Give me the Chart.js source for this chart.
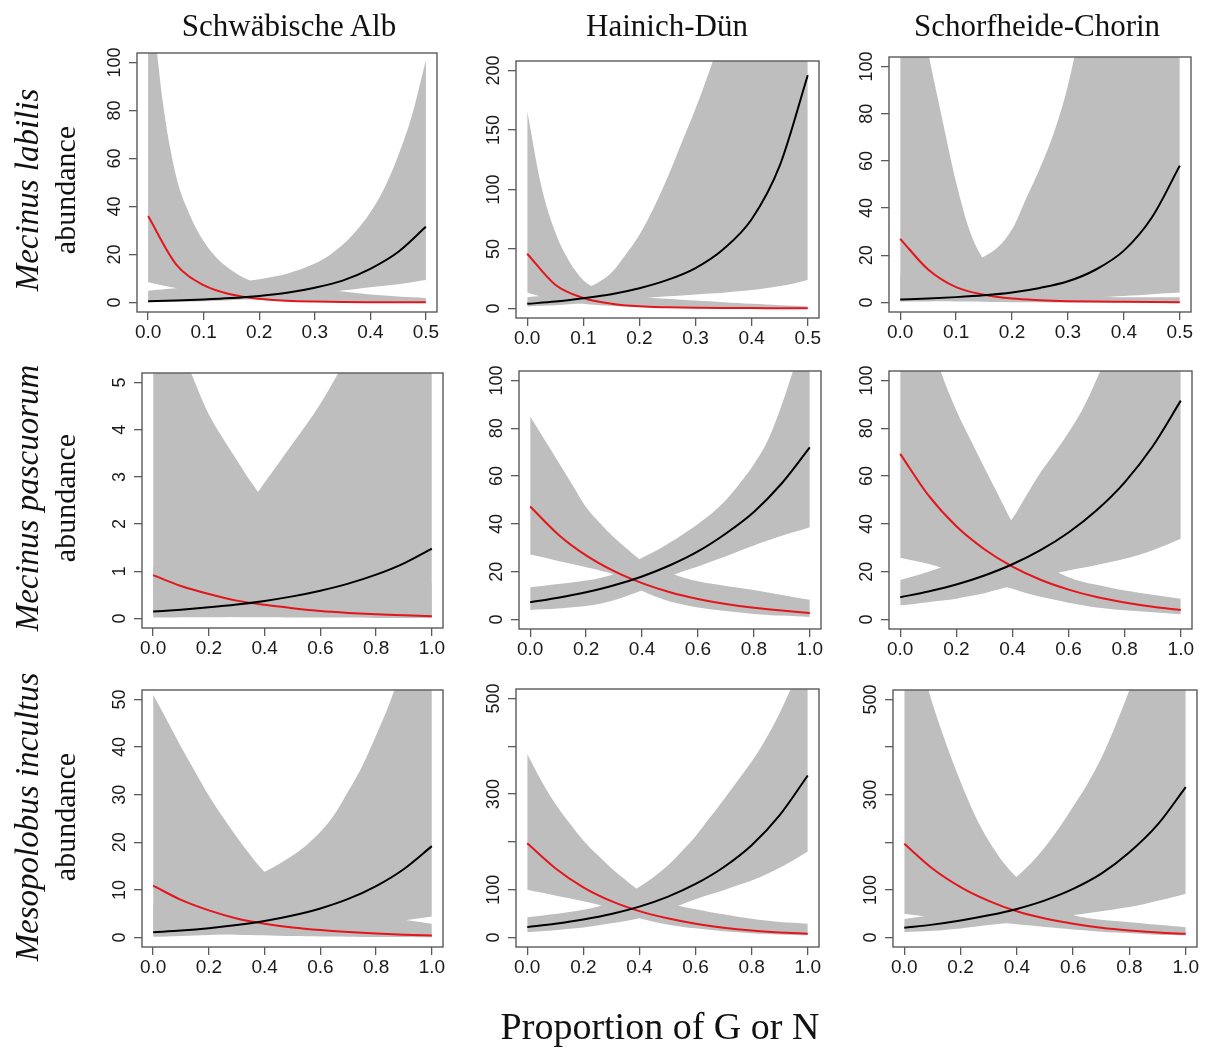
<!DOCTYPE html>
<html>
<head>
<meta charset="utf-8">
<script src="https://cdn.jsdelivr.net/npm/chart.js@4.4.1/dist/chart.umd.min.js"></script>
<style>
  body { margin: 0; background: #fff; width: 1206px; height: 1055px; position: relative; overflow: hidden; }
  canvas { position: absolute; }
  .serif { position: absolute; font-family: "Liberation Serif", "Times New Roman", serif; color: #111; white-space: nowrap; }
  .title { font-size: 31px; line-height: 32px; transform: translateX(-50%); }
  .rowlab { text-align: center; line-height: 32px; transform: translate(-50%, -50%) rotate(-90deg); }
  .rowlab i { font-size: 33px; }
  .rowlab span { font-size: 30px; }
  .xtitle { font-size: 38px; line-height: 38px; transform: translateX(-50%); }
</style>
</head>
<body>
<script>
// Abundance vs proportion of G or N, 3 sites x 3 species (R-style panels)

const SITES = ["Schwäbische Alb", "Hainich-Dün", "Schorfheide-Chorin"];
const SPECIES = ["Mecinus labilis", "Mecinus pascuorum", "Mesopolobus incultus"];
const Y_TITLE = "abundance";
const X_TITLE = "Proportion of G or N";

// x grids: fitted lines (11 pts) and confidence bands (21 pts)
const X_HALF = [0, 0.05, 0.1, 0.15, 0.2, 0.25, 0.3, 0.35, 0.4, 0.45, 0.5];
const X_FULL = [0, 0.1, 0.2, 0.3, 0.4, 0.5, 0.6, 0.7, 0.8, 0.9, 1.0];
const XB_HALF = [0, 0.025, 0.05, 0.075, 0.1, 0.125, 0.15, 0.175, 0.2, 0.225, 0.25,
                 0.275, 0.3, 0.325, 0.35, 0.375, 0.4, 0.425, 0.45, 0.475, 0.5];
const XB_FULL = [0, 0.05, 0.1, 0.15, 0.2, 0.25, 0.3, 0.35, 0.4, 0.45, 0.5,
                 0.55, 0.6, 0.65, 0.7, 0.75, 0.8, 0.85, 0.9, 0.95, 1.0];
const X_TICKS_HALF = [0, 0.1, 0.2, 0.3, 0.4, 0.5];
const X_TICKS_FULL = [0, 0.2, 0.4, 0.6, 0.8, 1.0];

const Y_TICKS_100 = [0, 20, 40, 60, 80, 100];
const Y_TICKS_200 = [0, 50, 100, 150, 200];
const Y_TICKS_5 = [0, 1, 2, 3, 4, 5];
const Y_TICKS_50 = [0, 10, 20, 30, 40, 50];
const Y_TICKS_500 = [0, 100, 200, 300, 400, 500];
const Y_LABELS_500 = [0, 100, 300, 500];

// ---- Mecinus labilis ----
const albLabBlack   = [0.52, 0.78, 1.2, 1.8, 2.7, 4.0, 6.1, 9.1, 14, 21, 31.5];
const albLabRed     = [36, 16, 7.2, 3.3, 1.5, 0.7, 0.35, 0.18, 0.1, 0.06, 0.03];
const albLabBlackHi = [4.9, 5.4, 5.9, 6.4, 6.9, 7.5, 8.1, 8.8, 9.7, 10.7, 12, 13.8, 16.2, 19.5, 24, 30, 37.5, 47.5, 61, 78, 101];
const albLabBlackLo = [0.1, 0.17, 0.25, 0.36, 0.5, 0.7, 0.9, 1.2, 1.5, 1.9, 2.4, 3.0, 3.7, 4.4, 5.0, 5.6, 6.3, 6.9, 7.6, 8.4, 9.3];
const albLabRedHi   = [142, 86, 53, 36.5, 25.5, 18.2, 13.4, 10, 7.9, 7.0, 6.3, 5.8, 5.4, 5.05, 4.5, 3.9, 3.3, 2.9, 2.5, 2.1, 1.8];
const albLabRedLo   = [8.4, 7.2, 6, 4.6, 3.5, 2.6, 2, 1.5, 1.1, 0.8, 0.6, 0.45, 0.35, 0.27, 0.2, 0.15, 0.1, 0.07, 0.05, 0.03, 0.02];

const haiLabBlack   = [3.9, 5.8, 8.6, 12, 17, 24, 34, 50, 75, 120, 196];
const haiLabRed     = [46, 20, 8.8, 4, 1.8, 1, 0.6, 0.4, 0.3, 0.2, 0.1];
const haiLabBlackHi = [9.5, 10.5, 11.8, 13.5, 16.5, 21.5, 30, 45, 62, 84, 110, 139, 168, 200, 235, 270, 310, 350, 400, 450, 500];
const haiLabBlackLo = [1.7, 2.2, 2.8, 3.5, 4.3, 5.2, 6.2, 7.3, 8.4, 9.4, 10.2, 11, 11.7, 12.5, 13.3, 14.4, 15.6, 17, 18.8, 21, 24];
const haiLabRedHi   = [166, 103, 64, 39.5, 23.8, 16.5, 14, 12, 10, 8.8, 8.1, 7.4, 6.7, 6.0, 5.3, 4.6, 3.9, 3.3, 2.7, 2.2, 1.7];
const haiLabRedLo   = [13.5, 10, 7.5, 5.5, 4, 3, 2.2, 1.6, 1.2, 0.9, 0.7, 0.5, 0.4, 0.3, 0.25, 0.2, 0.15, 0.1, 0.08, 0.05, 0.03];

const schLabBlack   = [1.3, 1.7, 2.3, 3.1, 4.3, 6.2, 9, 14, 22, 36, 58];
const schLabRed     = [27, 14, 6.5, 3.3, 1.7, 1, 0.6, 0.4, 0.3, 0.2, 0.1];
const schLabBlackHi = [12, 12.5, 13, 14, 15, 16.5, 19.5, 23.5, 31, 44, 57, 72, 92, 120, 150, 190, 240, 300, 380, 470, 580];
const schLabBlackLo = [0.3, 0.4, 0.5, 0.6, 0.7, 0.8, 0.9, 1.05, 1.2, 1.35, 1.5, 1.65, 1.8, 2.0, 2.2, 2.5, 2.8, 3.1, 3.5, 3.9, 4.3];
const schLabRedHi   = [175, 138, 106, 78, 51, 30, 18, 12.5, 9, 7, 5.5, 4.4, 3.6, 3.0, 2.6, 2.4, 2.3, 2.25, 2.2, 2.2, 2.2];
const schLabRedLo   = [2, 1.5, 1, 0.7, 0.5, 0.4, 0.3, 0.2, 0.15, 0.12, 0.1, 0.07, 0.05, 0.04, 0.03, 0.03, 0.02, 0.02, 0.01, 0.01, 0.01];

// ---- Mecinus pascuorum ----
const albPasBlack   = [0.15, 0.188, 0.237, 0.297, 0.374, 0.47, 0.59, 0.74, 0.93, 1.17, 1.48];
const albPasRed     = [0.92, 0.69, 0.52, 0.38, 0.29, 0.22, 0.16, 0.12, 0.09, 0.07, 0.05];
const albPasBlackHi = [1.1, 1.2, 1.3, 1.45, 1.6, 1.8, 2.1, 2.46, 2.88, 3.29, 3.7, 4.11, 4.55, 5.05, 5.6, 6.2, 6.8, 7.5, 8.2, 9, 9.8];
const albPasBlackLo = [0.02, 0.02, 0.03, 0.03, 0.03, 0.03, 0.04, 0.04, 0.04, 0.04, 0.05, 0.05, 0.05, 0.05, 0.05, 0.05, 0.06, 0.06, 0.06, 0.06, 0.06];
const albPasRedHi   = [7.3, 6.5, 5.75, 5.0, 4.32, 3.82, 3.36, 2.9, 2.5, 2.2, 1.95, 1.75, 1.6, 1.45, 1.3, 1.2, 1.1, 1.0, 0.9, 0.8, 0.75];
const albPasRedLo   = [0.05, 0.05, 0.04, 0.04, 0.04, 0.04, 0.03, 0.03, 0.03, 0.03, 0.02, 0.02, 0.02, 0.02, 0.02, 0.02, 0.01, 0.01, 0.01, 0.01, 0.01];

const haiPasBlack   = [7.2, 9.1, 11.4, 14.3, 18, 22.7, 28.5, 36, 45, 57, 72];
const haiPasRed     = [47.3, 35.6, 26.8, 20.2, 15.2, 11.4, 8.6, 6.5, 4.9, 3.7, 2.7];
const haiPasBlackHi = [13.5, 14.1, 14.8, 15.5, 16.3, 17.4, 19, 22, 25.8, 28.8, 32.2, 36, 40, 44.5, 50, 57, 65, 75, 90, 108, 130];
const haiPasBlackLo = [4.0, 4.3, 4.6, 5.1, 5.6, 6.6, 8, 10, 12.2, 15, 18, 20.3, 22.2, 24.4, 26.5, 28.8, 31, 33, 35, 36.8, 38.6];
const haiPasRedHi   = [85, 75.5, 66, 56.5, 47, 40.3, 34.3, 29.2, 24.5, 21.8, 19.3, 17.5, 16, 14.9, 14, 13.2, 12.3, 11.3, 10.2, 9.2, 8.2];
const haiPasRedLo   = [27.2, 25.9, 24.5, 23.2, 21.9, 20.5, 18.8, 15.5, 12, 9.5, 7.5, 6.2, 5, 4.2, 3.5, 2.9, 2.3, 1.9, 1.6, 1.3, 1.0];

const schPasBlack   = [9.3, 11.7, 14.6, 18.4, 23.1, 29, 36.4, 45.7, 57.4, 72.5, 91.6];
const schPasRed     = [69.3, 52, 39, 29.4, 22.1, 16.6, 12.5, 9.4, 7.1, 5.3, 4.0];
const schPasBlackHi = [16.5, 18.2, 20, 22, 24.3, 27.5, 31.5, 36, 42.3, 52, 61.5, 69.7, 78.3, 88, 100.5, 115, 132, 150, 170, 195, 222];
const schPasBlackLo = [5.9, 6.5, 7.2, 7.9, 8.7, 9.8, 11, 12.5, 14.2, 16, 17.8, 19.2, 20.5, 21.6, 22.8, 24, 25.4, 27, 29, 31.3, 33.8];
const schPasRedHi   = [160, 140, 120, 102, 87.5, 75.3, 63.5, 52, 40.5, 31, 24.5, 20.5, 17.7, 15.8, 14.5, 13.3, 12.1, 11.2, 10.3, 9.5, 8.7];
const schPasRedLo   = [25.8, 24.6, 23.3, 21.5, 19.5, 17.8, 16, 14.4, 12.8, 11, 9.5, 8.2, 7, 5.9, 5, 4.4, 3.8, 3.4, 3, 2.6, 2.2];

// ---- Mesopolobus incultus ----
const albIncBlack   = [1.1, 1.46, 1.95, 2.6, 3.45, 4.6, 6.1, 8.1, 10.8, 14.4, 19.2];
const albIncRed     = [10.9, 7.9, 5.7, 4.0, 2.9, 2.1, 1.55, 1.15, 0.85, 0.6, 0.4];
const albIncBlackHi = [7, 7.5, 8, 8.7, 9.5, 10.4, 11.4, 12.5, 13.8, 15.4, 17.2, 19.4, 22.2, 25.8, 30.7, 36, 42.5, 49.5, 58, 68, 80];
const albIncBlackLo = [0.15, 0.22, 0.3, 0.4, 0.5, 0.65, 0.8, 1.0, 1.2, 1.45, 1.7, 1.95, 2.2, 2.5, 2.8, 3.1, 3.35, 3.5, 3.6, 4.0, 4.4];
const albIncRedHi   = [51, 45.6, 40.1, 34.9, 29.8, 25.3, 21.1, 17.2, 13.7, 11.2, 9.3, 8, 7, 6.2, 5.5, 5, 4.5, 4.1, 3.7, 3.3, 2.9];
const albIncRedLo   = [1.5, 1.3, 1.1, 0.95, 0.8, 0.7, 0.6, 0.52, 0.45, 0.37, 0.3, 0.26, 0.22, 0.18, 0.15, 0.12, 0.1, 0.09, 0.08, 0.06, 0.05];

const haiIncBlack   = [21.6, 28.5, 37.4, 49, 64.5, 85, 112, 147, 193, 256, 339];
const haiIncRed     = [197, 145, 105, 76, 55, 40, 28.7, 20.5, 14.6, 10.6, 7.7];
const haiIncBlackHi = [42.5, 45.5, 49, 53, 58, 64.5, 73, 88, 106, 126, 150, 180, 212, 250, 288, 328, 368, 415, 470, 535, 610];
const haiIncBlackLo = [11, 13, 15, 18, 21, 25, 29.5, 34.5, 40, 48, 58, 69, 80, 90, 99, 109, 119, 132, 146, 162, 180];
const haiIncRedHi   = [384, 328, 280, 240, 203, 173, 145, 121, 98, 84, 72, 65, 59, 53.5, 48.5, 43.5, 39, 35.5, 32.5, 30.5, 28.7];
const haiIncRedLo   = [100, 94, 88, 82, 76, 69, 60, 50, 40, 33, 27, 22.5, 19, 16, 13, 11, 9, 7.5, 6, 5.2, 4.5];

const schIncBlack   = [20.4, 27, 35.7, 46.5, 60, 78, 102, 134, 179, 237, 316];
const schIncRed     = [197, 145, 106, 77, 55, 40, 29, 20.5, 14.7, 10.5, 7.7];
const schIncBlackHi = [39, 43, 48, 54, 62, 72, 85, 103, 128, 156, 190, 230, 275, 322, 377, 445, 520, 600, 690, 800, 920];
const schIncBlackLo = [11, 12.5, 14, 16.5, 19, 22.5, 26, 29.5, 33, 37, 41, 44, 47, 51, 55, 59.5, 64, 70, 77, 84, 92];
const schIncRedHi   = [700, 595, 492, 405, 327, 258, 203, 159, 126, 100, 78, 60, 47, 41, 37, 34.5, 32, 29.5, 26.8, 24.2, 21.6];
const schIncRedLo   = [50, 46, 42, 39.5, 37, 35, 33, 30.5, 28, 25, 22, 19.5, 17, 14.5, 12, 10.5, 9, 7.5, 6, 5.2, 4.5];

// panel order: row by row (species), column = site
const PANELS = [
  { xs: X_HALF, xb: XB_HALF, xTicks: X_TICKS_HALF, xTop: 0.5, yTop: 100, yTicks: Y_TICKS_100, yLabels: Y_TICKS_100,
    black: albLabBlack, blackHi: albLabBlackHi, blackLo: albLabBlackLo, red: albLabRed, redHi: albLabRedHi, redLo: albLabRedLo },
  { xs: X_HALF, xb: XB_HALF, xTicks: X_TICKS_HALF, xTop: 0.5, yTop: 200, yTicks: Y_TICKS_200, yLabels: Y_TICKS_200,
    black: haiLabBlack, blackHi: haiLabBlackHi, blackLo: haiLabBlackLo, red: haiLabRed, redHi: haiLabRedHi, redLo: haiLabRedLo },
  { xs: X_HALF, xb: XB_HALF, xTicks: X_TICKS_HALF, xTop: 0.5, yTop: 100, yTicks: Y_TICKS_100, yLabels: Y_TICKS_100,
    black: schLabBlack, blackHi: schLabBlackHi, blackLo: schLabBlackLo, red: schLabRed, redHi: schLabRedHi, redLo: schLabRedLo },
  { xs: X_FULL, xb: XB_FULL, xTicks: X_TICKS_FULL, xTop: 1, yTop: 5, yTicks: Y_TICKS_5, yLabels: Y_TICKS_5,
    black: albPasBlack, blackHi: albPasBlackHi, blackLo: albPasBlackLo, red: albPasRed, redHi: albPasRedHi, redLo: albPasRedLo },
  { xs: X_FULL, xb: XB_FULL, xTicks: X_TICKS_FULL, xTop: 1, yTop: 100, yTicks: Y_TICKS_100, yLabels: Y_TICKS_100,
    black: haiPasBlack, blackHi: haiPasBlackHi, blackLo: haiPasBlackLo, red: haiPasRed, redHi: haiPasRedHi, redLo: haiPasRedLo },
  { xs: X_FULL, xb: XB_FULL, xTicks: X_TICKS_FULL, xTop: 1, yTop: 100, yTicks: Y_TICKS_100, yLabels: Y_TICKS_100,
    black: schPasBlack, blackHi: schPasBlackHi, blackLo: schPasBlackLo, red: schPasRed, redHi: schPasRedHi, redLo: schPasRedLo },
  { xs: X_FULL, xb: XB_FULL, xTicks: X_TICKS_FULL, xTop: 1, yTop: 50, yTicks: Y_TICKS_50, yLabels: Y_TICKS_50,
    black: albIncBlack, blackHi: albIncBlackHi, blackLo: albIncBlackLo, red: albIncRed, redHi: albIncRedHi, redLo: albIncRedLo },
  { xs: X_FULL, xb: XB_FULL, xTicks: X_TICKS_FULL, xTop: 1, yTop: 500, yTicks: Y_TICKS_500, yLabels: Y_LABELS_500,
    black: haiIncBlack, blackHi: haiIncBlackHi, blackLo: haiIncBlackLo, red: haiIncRed, redHi: haiIncRedHi, redLo: haiIncRedLo },
  { xs: X_FULL, xb: XB_FULL, xTicks: X_TICKS_FULL, xTop: 1, yTop: 500, yTicks: Y_TICKS_500, yLabels: Y_LABELS_500,
    black: schIncBlack, blackHi: schIncBlackHi, blackLo: schIncBlackLo, red: schIncRed, redHi: schIncRedHi, redLo: schIncRedLo },
];

// ---- layout (page pixels of each plot box: left, top, right, bottom) ----
const FRAMES = [
  [137, 53, 437, 312], [516, 61, 819, 318], [889, 57, 1191, 312],
  [142, 373, 443, 628], [519, 371, 821, 629], [889, 371, 1192, 629],
  [142, 690, 443, 947], [516, 689, 819, 947], [893, 690, 1197, 947],
];
const Y_AXIS_W = 60, X_AXIS_H = 45;
const PAD = { left: 2, top: 12, right: 32, bottom: 0 };

const GREY = "#bebebe";
const RED = "#e3161c";
const AXIS_COL = "#5a5a5a";
const TEXT_COL = "#1a1a1a";
const SANS = '"Liberation Sans", Arial, sans-serif';

// box round the plot region + rotated y tick labels (R style, las = 0)
const boxAndYLabels = {
  id: "boxAndYLabels",
  afterDraw(chart, args, opts) {
    const { ctx, chartArea: a } = chart;
    const y = chart.scales.y;
    ctx.save();
    ctx.strokeStyle = AXIS_COL;
    ctx.lineWidth = 1.4;
    ctx.strokeRect(a.left, a.top, a.right - a.left, a.bottom - a.top);
    ctx.fillStyle = TEXT_COL;
    ctx.font = "18px " + SANS;
    ctx.textAlign = "center";
    ctx.textBaseline = "alphabetic";
    for (const v of opts.labels) {
      ctx.save();
      ctx.translate(a.left - 17, y.getPixelForValue(v));
      ctx.rotate(-Math.PI / 2);
      ctx.fillText(String(v), 0, 0);
      ctx.restore();
    }
    ctx.restore();
  }
};

function band(data, fill) {
  return {
    data, fill, backgroundColor: GREY, borderColor: "rgba(0,0,0,0)",
    borderWidth: 0, pointRadius: 0, cubicInterpolationMode: "monotone"
  };
}

function curve(data, color) {
  return {
    data, fill: false, borderColor: color, borderWidth: 2,
    pointRadius: 0, cubicInterpolationMode: "monotone"
  };
}

function buildPanel(p, frame) {
  const [L, T, R, B] = frame;
  const cv = document.createElement("canvas");
  const w = R - L + PAD.left + Y_AXIS_W + PAD.right;
  const h = B - T + PAD.top + X_AXIS_H;
  cv.width = w; cv.height = h;
  cv.style.width = w + "px"; cv.style.height = h + "px";
  cv.style.left = (L - PAD.left - Y_AXIS_W) + "px";
  cv.style.top = (T - PAD.top) + "px";
  document.body.appendChild(cv);

  const pts = (xs, ys) => xs.map((x, i) => ({ x, y: ys[i] }));
  const tickGrid = { drawOnChartArea: false, drawTicks: true, tickLength: 8, color: AXIS_COL, lineWidth: 1.3 };

  return new Chart(cv, {
    type: "line",
    data: {
      datasets: [
        curve(pts(p.xs, p.black), "#000"),
        curve(pts(p.xs, p.red), RED),
        band(pts(p.xb, p.blackHi), "+1"),
        band(pts(p.xb, p.blackLo), false),
        band(pts(p.xb, p.redHi), "+1"),
        band(pts(p.xb, p.redLo), false),
      ]
    },
    options: {
      responsive: false,
      animation: false,
      layout: { padding: PAD },
      plugins: { legend: { display: false }, tooltip: { enabled: false }, boxAndYLabels: { labels: p.yLabels } },
      scales: {
        x: {
          type: "linear",
          min: -0.04 * p.xTop, max: 1.04 * p.xTop,
          border: { display: false },
          grid: tickGrid,
          afterBuildTicks: s => { s.ticks = p.xTicks.map(v => ({ value: v })); },
          afterFit: s => { s.height = X_AXIS_H; s.paddingLeft = 0; s.paddingRight = 0; },
          ticks: {
            autoSkip: false, maxRotation: 0, padding: 1, color: TEXT_COL,
            font: { family: SANS, size: 19 },
            callback: v => Number(v).toFixed(1)
          }
        },
        y: {
          type: "linear",
          min: -0.04 * p.yTop, max: 1.04 * p.yTop,
          border: { display: false },
          grid: tickGrid,
          afterBuildTicks: s => { s.ticks = p.yTicks.map(v => ({ value: v })); },
          afterFit: s => { s.width = Y_AXIS_W; s.paddingTop = 0; s.paddingBottom = 0; },
          ticks: { display: false }
        }
      }
    },
    plugins: [boxAndYLabels]
  });
}

function addText(cls, html, left, top) {
  const d = document.createElement("div");
  d.className = "serif " + cls;
  d.innerHTML = html;
  d.style.left = left + "px";
  d.style.top = top + "px";
  document.body.appendChild(d);
}

PANELS.forEach((p, i) => buildPanel(p, FRAMES[i]));

// column titles
const TITLE_X = [289, 667, 1037];
SITES.forEach((s, i) => addText("title", s, TITLE_X[i], 10));

// row labels (species in italics + "abundance"), rotated
const ROW_Y = [190, 498, 817];
SPECIES.forEach((s, i) => addText("rowlab", "<i>" + s + "</i><br><span>" + Y_TITLE + "</span>", 48, ROW_Y[i]));

// shared x title
addText("xtitle", X_TITLE, 660, 1007);
</script>
</body>
</html>
